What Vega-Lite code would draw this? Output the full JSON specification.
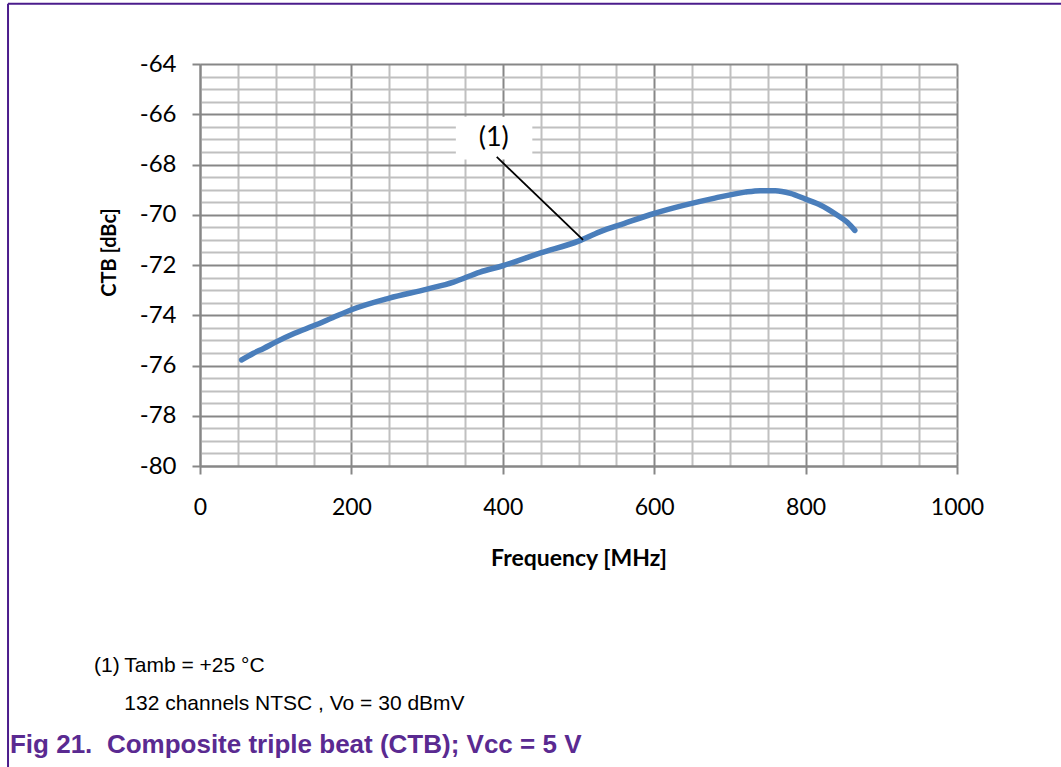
{
  "$schema": "https://vega.github.io/schema/vega-lite/v6.json",
  "width": 757,
  "height": 402,
  "autosize": "none",
  "padding": {"left": 200, "top": 64, "right": 104, "bottom": 301},
  "background": "white",
  "config": {"view": {"stroke": null}},
  "resolve": {"axis": {"x": "independent", "y": "independent"}},
  "datasets": {
    "ctb": [
      {"freq": 55, "ctb": -75.78},
      {"freq": 70, "ctb": -75.52},
      {"freq": 84, "ctb": -75.32},
      {"freq": 100, "ctb": -75.07},
      {"freq": 125, "ctb": -74.72},
      {"freq": 150, "ctb": -74.42},
      {"freq": 175, "ctb": -74.1},
      {"freq": 200, "ctb": -73.78},
      {"freq": 250, "ctb": -73.32},
      {"freq": 300, "ctb": -72.96},
      {"freq": 335, "ctb": -72.68},
      {"freq": 370, "ctb": -72.28},
      {"freq": 400, "ctb": -72.03},
      {"freq": 450, "ctb": -71.52},
      {"freq": 500, "ctb": -71.05},
      {"freq": 528, "ctb": -70.68},
      {"freq": 560, "ctb": -70.35},
      {"freq": 600, "ctb": -69.95},
      {"freq": 640, "ctb": -69.62},
      {"freq": 680, "ctb": -69.34},
      {"freq": 720, "ctb": -69.1},
      {"freq": 740, "ctb": -69.04},
      {"freq": 760, "ctb": -69.04},
      {"freq": 780, "ctb": -69.15},
      {"freq": 800, "ctb": -69.38},
      {"freq": 820, "ctb": -69.62},
      {"freq": 840, "ctb": -69.98},
      {"freq": 855, "ctb": -70.3},
      {"freq": 865, "ctb": -70.62}
    ],
    "one": [{}]
  },
  "layer": [
    {
      "data": {"name": "ctb"},
      "mark": {"type": "line", "color": "#4A7EBB", "strokeWidth": 5.5, "strokeCap": "round", "strokeJoin": "round", "interpolate": "monotone"},
      "encoding": {
        "x": {
          "field": "freq", "type": "quantitative",
          "scale": {"domain": [0, 1000], "nice": false, "zero": false},
          "axis": {
            "title": "Frequency [MHz]",
            "values": [0,50,100,150,200,250,300,350,400,450,500,550,600,650,700,750,800,850,900,950,1000],
            "labelExpr": "datum.value % 200 === 0 ? '' + datum.value : ''",
            "labelFlush": false,
            "labelBound": false,
            "grid": true,
            "gridColor": {"expr": "datum.value % 200 === 0 ? '#878787' : '#c0c0c0'"},
            "gridWidth": 2,
            "tickColor": "#878787",
            "tickWidth": 2,
            "tickSize": 8,
            "tickOpacity": {"expr": "datum.value % 200 === 0 ? 1 : 0"},
            "domainColor": "#878787",
            "domainWidth": 2,
            "labelFont": "Lato",
            "labelFontSize": 23,
            "labelColor": "#000000",
            "labelPadding": 22,
            "labelOverlap": false,
            "titleFont": "Lato",
            "titleFontSize": 23,
            "titleFontWeight": "bold",
            "titleColor": "#000000",
            "titlePadding": 28
          }
        },
        "y": {
          "field": "ctb", "type": "quantitative",
          "scale": {"domain": [-80, -64], "nice": false, "zero": false},
          "axis": {
            "title": "CTB [dBc]",
            "values": [-80,-79.5,-79,-78.5,-78,-77.5,-77,-76.5,-76,-75.5,-75,-74.5,-74,-73.5,-73,-72.5,-72,-71.5,-71,-70.5,-70,-69.5,-69,-68.5,-68,-67.5,-67,-66.5,-66,-65.5,-65,-64.5,-64],
            "labelExpr": "datum.value % 2 === 0 ? '' + datum.value : ''",
            "grid": true,
            "gridColor": {"expr": "datum.value % 2 === 0 ? '#878787' : '#c0c0c0'"},
            "gridWidth": 2,
            "tickColor": "#878787",
            "tickWidth": 2,
            "tickSize": 8,
            "tickOpacity": {"expr": "datum.value % 2 === 0 ? 1 : 0"},
            "domainColor": "#878787",
            "domainWidth": 2,
            "labelFont": "Lato",
            "labelFontSize": 24,
            "labelColor": "#000000",
            "labelPadding": 16,
            "labelOverlap": false,
            "titleFont": "Lato",
            "titleFontSize": 20,
            "titleFontWeight": "bold",
            "titleColor": "#000000",
            "titlePadding": 20,
            "titleY": 188
          }
        }
      }
    },
    {
      "data": {"name": "one"},
      "mark": {"type": "rect", "color": "white", "clip": false},
      "encoding": {
        "x": {"datum": 338, "type": "quantitative", "axis": null},
        "x2": {"datum": 439},
        "y": {"datum": -66.1, "type": "quantitative", "axis": null},
        "y2": {"datum": -67.8}
      }
    },
    {
      "data": {"name": "one"},
      "mark": {"type": "rule", "color": "#000000", "strokeWidth": 1.8},
      "encoding": {
        "x": {"datum": 392, "type": "quantitative", "axis": null},
        "y": {"datum": -67.7, "type": "quantitative", "axis": null},
        "x2": {"datum": 506},
        "y2": {"datum": -71.0}
      }
    },
    {
      "data": {"name": "one"},
      "mark": {"type": "text", "font": "Lato", "fontSize": 27, "color": "#000000", "align": "center", "baseline": "middle"},
      "encoding": {
        "x": {"datum": 388, "type": "quantitative", "axis": null},
        "y": {"datum": -66.95, "type": "quantitative", "axis": null},
        "text": {"value": "(1)"}
      }
    },
    {
      "data": {"name": "one"},
      "mark": {"type": "rule", "color": "#4B1C8C", "strokeWidth": 2, "clip": false},
      "encoding": {
        "x": {"datum": -253.6, "type": "quantitative", "axis": null},
        "y": {"datum": -61.6, "type": "quantitative", "axis": null},
        "y2": {"datum": -92.2}
      }
    },
    {
      "data": {"name": "one"},
      "mark": {"type": "rule", "color": "#4B1C8C", "strokeWidth": 2, "clip": false},
      "encoding": {
        "x": {"datum": -253.6, "type": "quantitative", "axis": null},
        "x2": {"datum": 1140},
        "y": {"datum": -61.6, "type": "quantitative", "axis": null}
      }
    },
    {
      "data": {"name": "one"},
      "mark": {"type": "text", "font": "Liberation Sans", "fontSize": 21, "color": "#000000", "align": "left", "baseline": "alphabetic"},
      "encoding": {
        "x": {"datum": -140, "type": "quantitative", "axis": null},
        "y": {"datum": -88.2, "type": "quantitative", "axis": null},
        "text": {"value": "(1)"}
      }
    },
    {
      "data": {"name": "one"},
      "mark": {"type": "text", "font": "Liberation Sans", "fontSize": 21, "color": "#000000", "align": "left", "baseline": "alphabetic"},
      "encoding": {
        "x": {"datum": -100, "type": "quantitative", "axis": null},
        "y": {"datum": -88.2, "type": "quantitative", "axis": null},
        "text": {"value": "Tamb = +25 °C"}
      }
    },
    {
      "data": {"name": "one"},
      "mark": {"type": "text", "font": "Liberation Sans", "fontSize": 21, "color": "#000000", "align": "left", "baseline": "alphabetic"},
      "encoding": {
        "x": {"datum": -100, "type": "quantitative", "axis": null},
        "y": {"datum": -89.71, "type": "quantitative", "axis": null},
        "text": {"value": "132 channels NTSC , Vo = 30 dBmV"}
      }
    },
    {
      "data": {"name": "one"},
      "mark": {"type": "text", "font": "Liberation Sans", "fontSize": 26, "fontWeight": "bold", "color": "#5A2A91", "align": "left", "baseline": "alphabetic"},
      "encoding": {
        "x": {"datum": -251, "type": "quantitative", "axis": null},
        "y": {"datum": -91.42, "type": "quantitative", "axis": null},
        "text": {"value": "Fig 21."}
      }
    },
    {
      "data": {"name": "one"},
      "mark": {"type": "text", "font": "Liberation Sans", "fontSize": 26, "fontWeight": "bold", "color": "#5A2A91", "align": "left", "baseline": "alphabetic"},
      "encoding": {
        "x": {"datum": -123, "type": "quantitative", "axis": null},
        "y": {"datum": -91.42, "type": "quantitative", "axis": null},
        "text": {"value": "Composite triple beat (CTB); Vcc = 5 V"}
      }
    }
  ]
}
